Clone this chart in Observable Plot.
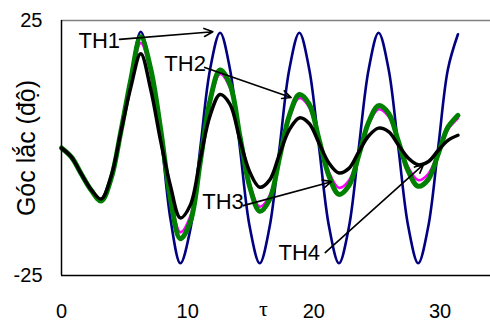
<!DOCTYPE html>
<html>
<head>
<meta charset="utf-8">
<script src="https://cdn.jsdelivr.net/npm/d3@7"></script>
<script src="https://cdn.jsdelivr.net/npm/@observablehq/plot@0.6"></script>
<style>
  html, body { margin: 0; padding: 0; background: white; }
</style>
</head>
<body>
<div id="chart"></div>
<script>
const tau = [0, 0.79, 1.57, 2.36, 3.14, 3.93, 4.71, 5.50, 6.28, 7.07, 7.85, 8.64, 9.42, 10.21, 11.00, 11.78, 12.57, 13.35, 14.14, 14.92, 15.71, 16.49, 17.28, 18.06, 18.85, 19.63, 20.42, 21.21, 21.99, 22.78, 23.56, 24.35, 25.13, 25.92, 26.70, 27.49, 28.27, 29.06, 29.85, 30.63, 31.42];
const th1 = [0, -1.8, -5.1, -8.3, -10.2, -5.8, 3.8, 14, 22.8, 15, 3, -14, -22.6, -16, 0, 15.5, 22.6, 15.5, 0, -15.5, -22.6, -15.5, 0, 15.5, 22.6, 15.5, 0, -15.5, -22.6, -15.5, 0, 15.5, 22.6, 15.5, 0, -15.5, -22.6, -15.5, 0, 15.5, 22.3];
const th2 = [0, -1.8, -5.1, -8.3, -10.4, -6, 3.3, 13.5, 21.8, 15.5, 3.8, -10, -17.8, -14.5, -2.7, 9.4, 15.3, 12.5, 2.3, -7.6, -12.4, -10.1, -1.9, 6.4, 10.5, 8.6, 1.6, -5.6, -9.1, -7.4, -1.4, 5.1, 8.3, 6.8, 1.3, -4.6, -7.5, -6.2, -1.2, 4.1, 6.4];
const th3 = [0, -1.8, -5.1, -8.3, -10.2, -5.8, 3.3, 13, 20.6, 15, 3.4, -9.4, -16.5, -13.4, -2.5, 8.9, 14.5, 11.8, 2.2, -7, -11.5, -9.4, -1.8, 6, 9.8, 8, 1.5, -4.8, -7.8, -6.4, -1.2, 4.7, 7.6, 6.2, 1.2, -3.8, -6.3, -5.1, -1, 3.6, 5.8];
const th4 = [0, -1.8, -5.1, -8.2, -10, -5.6, 3.2, 12, 18.5, 11.5, 1.5, -7.5, -13.7, -11.2, -2.1, 6.4, 10.5, 8.6, 1.6, -4.7, -7.7, -6.3, -1.2, 3.6, 5.9, 4.8, 0.9, -3, -4.9, -4, -0.75, 2.4, 3.9, 3.2, 0.6, -2, -3.3, -2.7, -0.5, 1.5, 2.5];
const xTicks = [0, 10, 20, 30];
const yTicks = [-25, 25];
const seriesNames = ["TH1", "TH2", "TH3", "TH4"];
const yTitle = "Góc lắc (độ)";
const xTitle = "τ";
// annotation label anchors and arrow endpoints (data units)
const labels = [
  {name: "TH1", x: 1.35, y: 20.9, ax1: 4.6, ay1: 21.3, ax2: 12.0, ay2: 22.8},
  {name: "TH2", x: 8.15, y: 16.4, ax1: 11.35, ay1: 15.8, ax2: 18.2, ay2: 9.9},
  {name: "TH3", x: 11.15, y: -10.5, ax1: 14.4, ay1: -11.3, ax2: 21.4, ay2: -6.6},
  {name: "TH4", x: 17.2, y: -20.5, ax1: 20.9, ay1: -20.5, ax2: 28.7, ay2: -3.2}
];

const mk = (arr) => tau.map((t, i) => ({t, v: arr[i]}));
const d1 = mk(th1), d2 = mk(th2), d3 = mk(th3), d4 = mk(th4);

const chart = Plot.plot({
  width: 490,
  height: 323,
  marginLeft: 61,
  marginRight: 0,
  marginTop: 20,
  marginBottom: 48,
  style: {fontFamily: "Liberation Sans, Arial, sans-serif", background: "white", color: "black"},
  x: {domain: [0, 34]},
  y: {domain: [-25, 25]},
  marks: [
    Plot.ruleY([25], {stroke: "#808080", strokeWidth: 1.5}),
    Plot.line(d1, {x: "t", y: "v", stroke: "#000080", strokeWidth: 2.6, curve: "catmull-rom"}),
    Plot.line(d3, {x: "t", y: "v", stroke: "#FF00FF", strokeWidth: 2.6, curve: "catmull-rom"}),
    Plot.line(d2, {x: "t", y: "v", stroke: "#008000", strokeWidth: 5, curve: "catmull-rom"}),
    Plot.line(d4, {x: "t", y: "v", stroke: "#000000", strokeWidth: 3.5, curve: "catmull-rom"}),
    Plot.ruleX([0], {stroke: "black", strokeWidth: 1.5}),
    Plot.ruleY([-25], {stroke: "black", strokeWidth: 1.5}),
    Plot.arrow(labels, {x1: "ax1", y1: "ay1", x2: "ax2", y2: "ay2", stroke: "black", strokeWidth: 1.6, headLength: 9, headAngle: 50}),
    Plot.text(labels, {x: "x", y: "y", text: "name", textAnchor: "start", fontSize: 22, fill: "black"}),
    Plot.axisX({ticks: xTicks, tickSize: 0, tickPadding: 28, fontSize: 20, label: null}),
    Plot.axisY({ticks: yTicks, tickSize: 0, tickPadding: 19, fontSize: 20, label: null, tickFormat: d => String(d)}),
    Plot.text([yTitle], {frameAnchor: "left", textAnchor: "middle", lineAnchor: "middle", rotate: -90, dx: -35, fontSize: 25, fill: "black", text: d => d}),
    Plot.text([xTitle], {x: [16.0], frameAnchor: "bottom", dy: 40, fontSize: 22, fontFamily: "Liberation Serif", fill: "black", text: d => d})
  ]
});
document.getElementById("chart").appendChild(chart);
</script>
</body>
</html>
